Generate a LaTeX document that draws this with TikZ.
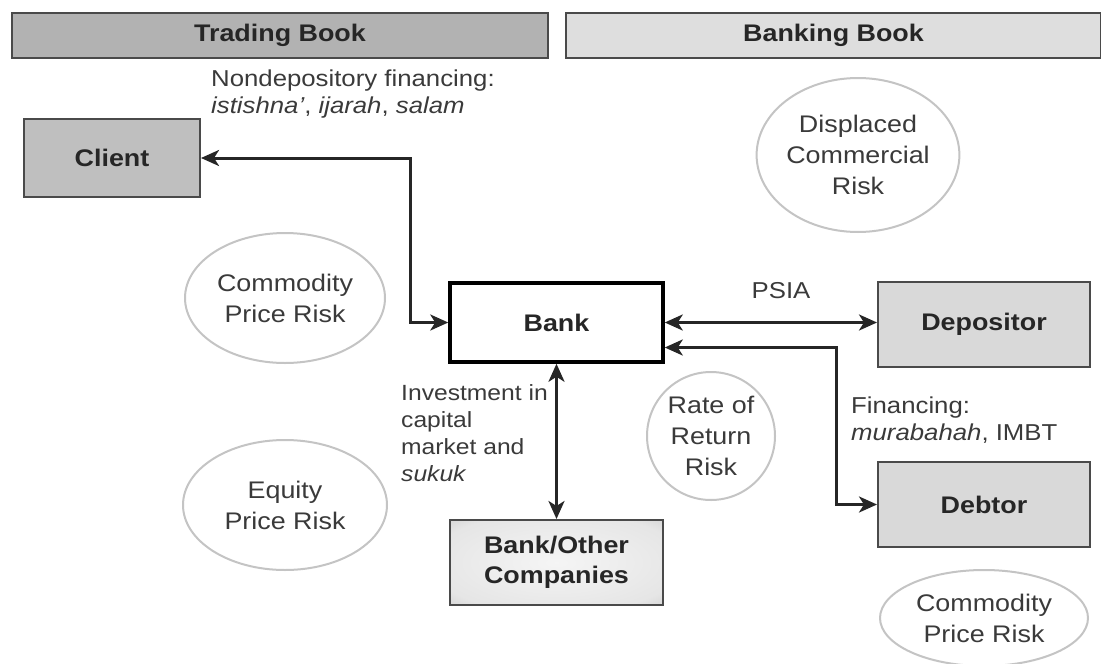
\documentclass[tikz,border=0pt]{standalone}
\usepackage{fontspec}
\setmainfont{Liberation Sans}[FakeStretch=1.12]
\usetikzlibrary{arrows.meta,calc,shapes.geometric}
\definecolor{ink}{HTML}{262626}
\definecolor{soft}{HTML}{3A3A3A}
\definecolor{edge}{HTML}{4A4A4A}
\definecolor{ring}{HTML}{C4C4C4}
% pale centre fading to grey at the rim
\pgfdeclareradialshading{softglow}{\pgfpoint{0bp}{0bp}}{%
  color(0bp)=(black!4); color(30bp)=(black!10); color(42bp)=(black!22); color(50bp)=(black!32)}
\begin{document}
\begin{tikzpicture}[x=1pt,y=-1pt,
  bar/.style={draw=edge, line width=2pt, minimum height=45pt, inner sep=0pt,
    font=\fontsize{24}{28}\selectfont\bfseries, text=ink},
  box/.style={draw=edge, line width=2pt, inner sep=0pt, align=center,
    font=\fontsize{24}{30}\selectfont\bfseries, text=ink},
  risk/.style={ellipse, draw=ring, line width=2pt, fill=white, inner sep=0pt,
    align=center, font=\fontsize{24}{31}\selectfont, text=soft},
  lbl/.style={inner sep=0pt, align=left, font=\fontsize{23}{27}\selectfont, text=soft},
  link/.style={line width=3pt, draw=ink, {Stealth[length=18pt,width=16pt,inset=5pt]}-{Stealth[length=18pt,width=16pt,inset=5pt]}}
]
\useasboundingbox (0,0) rectangle (1101,664);

% book headers
\node[bar, fill=black!30, minimum width=536pt] (trading) at (280,35.5) {Trading Book};
\node[bar, fill=black!13, minimum width=535pt] (banking) at (833.5,35.5) {Banking Book};

% risk ellipses
\node[risk, minimum width=200pt, minimum height=130pt] (crisk1) at (285,298) {Commodity\\Price Risk};
\node[risk, minimum width=204pt, minimum height=130pt] (erisk) at (285,505) {Equity\\Price Risk};
\node[risk, minimum width=160pt, minimum height=154pt] (drisk) at (858,155) {Displaced\\Commercial\\Risk};
\node[risk, minimum width=128pt, minimum height=128pt] (rrisk) at (711,436) {Rate of\\Return\\Risk};
\node[risk, minimum width=208pt, minimum height=96pt] (crisk2) at (984,618) {Commodity\\Price Risk};

% parties
\node[box, fill=black!25, minimum width=176pt, minimum height=78pt] (client) at (112,158) {Client};
\node[box, draw=black, line width=3.5pt, fill=white, minimum width=213pt, minimum height=79pt] (bank) at (556.5,322.5) {Bank};
\node[box, fill=black!15, minimum width=212pt, minimum height=85pt] (dep) at (984,324.5) {Depositor};
\node[box, fill=black!15, minimum width=212pt, minimum height=85pt] (debt) at (984,504.5) {Debtor};
\node[box, shading=softglow, minimum width=213pt, minimum height=85pt] (boc) at (556.5,562.5) {Bank/Other\\Companies};

% flow labels
\node[lbl, anchor=north west] (nondep) at (211,70) {Nondepository financing:\\\textit{istishna'}, \textit{ijarah}, \textit{salam}};
\node[lbl] (psia) at (781,291) {PSIA};
\node[lbl, anchor=north west] (fin) at (851,397) {Financing:\\\textit{murabahah}, IMBT};
\node[lbl, anchor=north west, font=\fontsize{22}{27}\selectfont] (inv) at (401,384) {Investment in\\capital\\market and\\\textit{sukuk}};

% connectors
\coordinate (cx) at (410,0);
\coordinate (dx) at (836,0);
\coordinate (b2) at ([yshift=-25pt]bank.east);
\draw[link] (client.east) -- (client.east -| cx) |- (bank.west);
\draw[link] (bank.east) -- (bank.east -| dep.west);
\draw[link] (b2) -- (b2 -| dx) |- (debt.west);
\draw[link] (bank.south) -- (boc.north);
\end{tikzpicture}
\end{document}
